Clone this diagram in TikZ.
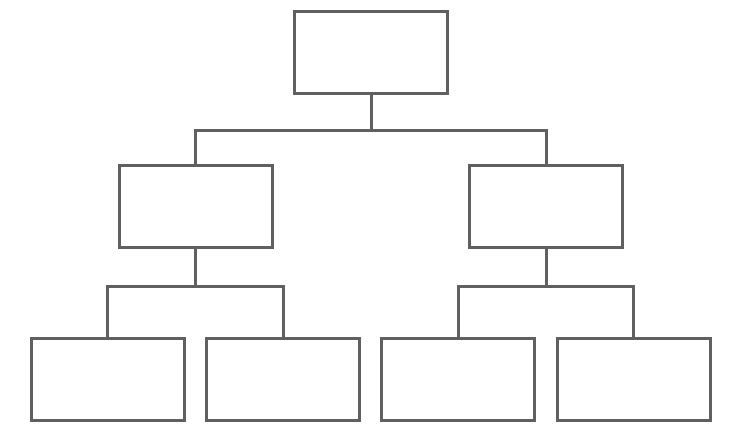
\documentclass[tikz,border=0pt]{standalone}
\begin{document}
\begin{tikzpicture}[x=1pt,y=-1pt,
  linecol/.style={draw={rgb,255:red,96;green,96;blue,96}, line width=3pt},
  orgbox/.style={linecol, rectangle, minimum width=153pt, minimum height=82pt, inner sep=0pt, fill=white},
  link/.style={linecol}]
\useasboundingbox[fill=white] (0,0) rectangle (740,432);
\node[orgbox] (top) at (371,52.5) {};
\node[orgbox] (ml) at (195.5,206.5) {};
\node[orgbox] (mr) at (546,206.5) {};
\node[orgbox] (b1) at (107.5,379) {};
\node[orgbox] (b2) at (283,379) {};
\node[orgbox] (b3) at (458,379) {};
\node[orgbox] (b4) at (633.5,379) {};
\coordinate (j1) at (371,130);
\coordinate (j2) at (195.5,286);
\coordinate (j3) at (546,286);
\draw[link] (top.south) -- (j1);
\draw[link] (ml.north) |- (j1) -| (mr.north);
\draw[link] (ml.south) -- (j2);
\draw[link] (b1.north) |- (j2) -| (b2.north);
\draw[link] (mr.south) -- (j3);
\draw[link] (b3.north) |- (j3) -| (b4.north);
\end{tikzpicture}
\end{document}
